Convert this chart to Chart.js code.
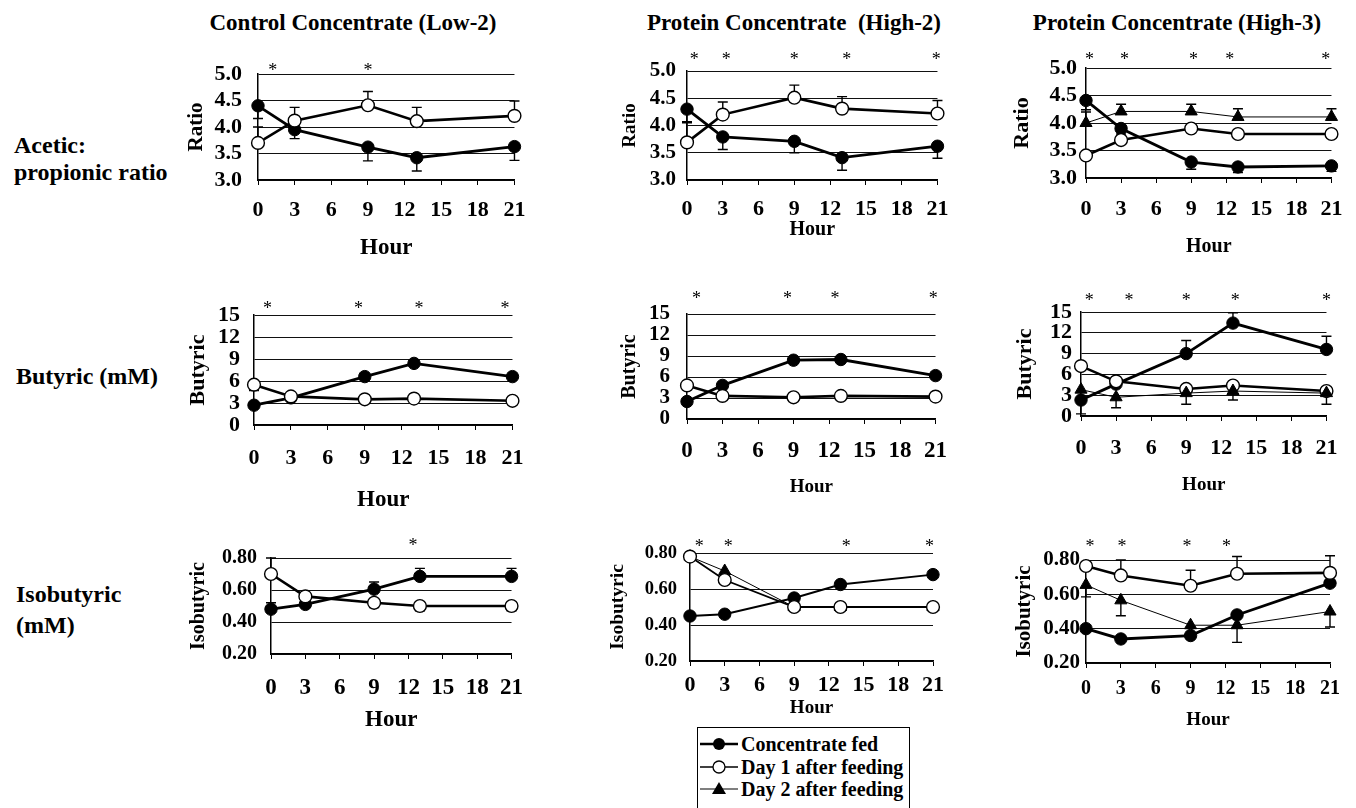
<!DOCTYPE html>
<html>
<head>
<meta charset="utf-8">
<script src="https://cdn.jsdelivr.net/npm/chart.js@4.4.1/dist/chart.umd.min.js"></script>
<style>
body{margin:0;background:#fff;}
#page{position:relative;width:1356px;height:808px;overflow:hidden;font-family:"Liberation Serif","Times New Roman",serif;font-weight:bold;color:#000;}
.lab{position:absolute;line-height:1;white-space:pre;}
.ctr{transform:translate(-50%,-50%);}
.mid{transform:translateY(-50%);}
canvas{position:absolute;}
#legend{position:absolute;left:697px;top:727px;width:213px;height:100px;border:1.5px solid #000;box-sizing:border-box;}
.lrow{position:absolute;left:0;height:22px;width:100%;}
.lrow svg{position:absolute;left:2px;top:1px;}
.lrow span{position:absolute;left:43px;top:0;font-size:20px;line-height:22px;white-space:nowrap;}
</style>
</head>
<body>
<div id="page">
  <div class="lab ctr" style="left:353px;top:22px;font-size:23px;">Control Concentrate (Low-2)</div>
  <div class="lab ctr" style="left:794px;top:22px;font-size:23px;">Protein Concentrate  (High-2)</div>
  <div class="lab ctr" style="left:1177px;top:22px;font-size:23px;">Protein Concentrate (High-3)</div>

  <div class="lab mid" style="left:14px;top:145px;font-size:24px;">Acetic:</div>
  <div class="lab mid" style="left:14px;top:172px;font-size:24px;">propionic ratio</div>
  <div class="lab mid" style="left:16px;top:376px;font-size:24px;">Butyric (mM)</div>
  <div class="lab mid" style="left:16px;top:594px;font-size:24px;">Isobutyric</div>
  <div class="lab mid" style="left:16px;top:625px;font-size:24px;">(mM)</div>

  <div id="legend">
    <div class="lrow" style="top:5px;">
      <svg width="40" height="20"><line x1="0" y1="10" x2="38" y2="10" stroke="#000" stroke-width="2.5"/><circle cx="19" cy="10" r="6" fill="#000"/></svg>
      <span>Concentrate fed</span>
    </div>
    <div class="lrow" style="top:28px;">
      <svg width="40" height="20"><line x1="0" y1="10" x2="38" y2="10" stroke="#000" stroke-width="1.5"/><circle cx="19" cy="10" r="6" fill="#fff" stroke="#000" stroke-width="1.3"/></svg>
      <span>Day 1 after feeding</span>
    </div>
    <div class="lrow" style="top:50px;">
      <svg width="40" height="20"><line x1="0" y1="10" x2="38" y2="10" stroke="#000" stroke-width="1.2"/><polygon points="19,3 26,15 12,15" fill="#000"/></svg>
      <span>Day 2 after feeding</span>
    </div>
  </div>
</div>

<script>
// sampling hours
const hours = [0, 3, 9, 13, 21];

// ---- acetic:propionic ratio ----
const acLow2Fed = [4.4, 3.95, 3.62, 3.42, 3.63];
const acLow2FedErr = [-0.24, -0.17, -0.26, -0.25, -0.26];
const acLow2Day1 = [3.7, 4.12, 4.41, 4.11, 4.21];
const acLow2Day1Err = [0.3, 0.25, 0.26, 0.26, 0.28];
const acLow2Stars = [1.2, 9];

const acHigh2Fed = [4.3, 3.79, 3.71, 3.41, 3.62];
const acHigh2FedErr = [-0.25, -0.23, -0.21, -0.23, -0.22];
const acHigh2Day1 = [3.69, 4.2, 4.51, 4.31, 4.22];
const acHigh2Day1Err = [0.38, 0.23, 0.23, 0.22, 0.24];
const acHigh2Stars = [0.6, 3.3, 9, 13.4, 20.9];

const acHigh3Fed = [4.41, 3.9, 3.29, 3.2, 3.22];
const acHigh3FedErr = [-0.17, -0.1, -0.13, -0.1, -0.1];
const acHigh3Day1 = [3.41, 3.69, 3.9, 3.8, 3.8];
const acHigh3Day2 = [4.0, 4.21, 4.21, 4.11, 4.11];
const acHigh3Day2Err = [0.2, 0.13, 0.13, 0.15, 0.15];
const acHigh3Stars = [0.3, 3.3, 9.2, 12.3, 20.5];

// ---- butyric ----
const buLow2Fed = [2.7, 3.7, 6.6, 8.4, 6.6];
const buLow2Day1 = [5.5, 3.9, 3.5, 3.6, 3.3];
const buLow2Day1Err = [-0.8, 0, 0, 0, 0];
const buLow2Stars = [1.1, 8.5, 13.4, 20.4];

const buHigh2Fed = [2.5, 4.8, 8.4, 8.5, 6.2];
const buHigh2Day1 = [4.8, 3.3, 3.1, 3.3, 3.2];
const buHigh2Stars = [0.8, 8.5, 12.5, 20.8];

const buHigh3Fed = [2.3, 4.6, 9.0, 13.4, 9.6];
const buHigh3FedErr = [-2.0, 0, 1.9, 1.5, 1.9];
const buHigh3Day1 = [7.2, 5.0, 3.9, 4.4, 3.6];
const buHigh3Day2 = [3.8, 2.7, 3.3, 3.6, 3.3];
const buHigh3Day2Err = [0, -1.5, -1.6, -1.3, -1.6];
const buHigh3Stars = [0.7, 4.1, 9, 13.2, 21];

// ---- isobutyric ----
const isoLow2Fed = [0.48, 0.51, 0.605, 0.685, 0.685];
const isoLow2FedErr = [0.04, 0, 0.045, 0.05, 0.05];
const isoLow2Day1 = [0.70, 0.56, 0.52, 0.50, 0.50];
const isoLow2Day1Err = [0.1, 0, -0.03, -0.03, -0.03];
const isoLow2Stars = [12.4];

const isoHigh2Fed = [0.45, 0.46, 0.55, 0.625, 0.68];
const isoHigh2Day1 = [0.78, 0.65, 0.50, 0.50, 0.50];
const isoHigh2Day2 = [0.78, 0.70, 0.50, 0.50, 0.50];
const isoHigh2Stars = [0.8, 3.3, 13.5, 20.7];

const isoHigh3Fed = [0.40, 0.34, 0.36, 0.48, 0.665];
const isoHigh3Day1 = [0.765, 0.71, 0.65, 0.72, 0.725];
const isoHigh3Day1Err = [0, 0.09, 0.09, 0.1, 0.1];
const isoHigh3Day2 = [0.655, 0.565, 0.42, 0.42, 0.50];
const isoHigh3Day2Err = [-0.07, -0.09, 0, -0.1, -0.09];
const isoHigh3Stars = [0.34, 3.1, 8.7, 12.1];

// y axes: min, max, step, decimals
const ratioAxis = [3, 5, 0.5, 1];
const butyricAxis = [0, 15, 3, 0];
const isoAxis = [0.2, 0.8, 0.2, 2];

/* styles of the three series */
const styles = {
  fed: {pointStyle:"circle", pointBackgroundColor:"#000", borderWidth:2.8, pointRadius:6.2, pointBorderWidth:1, order:3},
  day1: {pointStyle:"circle", pointBackgroundColor:"#fff", borderWidth:2.6, pointRadius:6.4, pointBorderWidth:1.4, order:2},
  day2: {pointStyle:"triangle", pointBackgroundColor:"#000", borderWidth:1, pointRadius:7, pointBorderWidth:1, order:1}
};

/* panel placement (pixels) */
const panels = [
  {L:258,R:518,T:74,B:180, yTitleX:197,tickY:210,hourY:248,starDy:7, axis:ratioAxis, yTitle:"Ratio", yTitleSize:21, xTick:22, yTick:22, yPad:16, hourSize:23, lw:1,
   series:[["fed",acLow2Fed,acLow2FedErr],["day1",acLow2Day1,acLow2Day1Err]], stars:acLow2Stars},
  {L:687,R:940,T:71,B:180, yTitleX:630,tickY:209,hourY:230,starDy:15, axis:ratioAxis, yTitle:"Ratio", yTitleSize:19, xTick:22, yTick:21, yPad:11, hourSize:20, lw:1,
   series:[["fed",acHigh2Fed,acHigh2FedErr],["day1",acHigh2Day1,acHigh2Day1Err]], stars:acHigh2Stars},
  {L:1086,R:1336,T:68,B:178, yTitleX:1022,tickY:209,hourY:247,starDy:12, axis:ratioAxis, yTitle:"Ratio", yTitleSize:22, xTick:22, yTick:22, yPad:9, hourSize:20, lw:1,
   series:[["fed",acHigh3Fed,acHigh3FedErr],["day1",acHigh3Day1,null],["day2",acHigh3Day2,acHigh3Day2Err]], stars:acHigh3Stars},
  {L:254,R:519,T:315,B:425, yTitleX:198,tickY:458,hourY:500,starDy:10, axis:butyricAxis, yTitle:"Butyric", yTitleSize:22, xTick:22, yTick:22, yPad:14, hourSize:23, lw:1,
   series:[["fed",buLow2Fed,null],["day1",buLow2Day1,buLow2Day1Err]], stars:buLow2Stars},
  {L:687,R:940,T:314,B:419, yTitleX:630,tickY:450,hourY:487,starDy:19, axis:butyricAxis, yTitle:"Butyric", yTitleSize:20, xTick:23, yTick:21, yPad:17, hourSize:19, lw:1,
   series:[["fed",buHigh2Fed,null],["day1",buHigh2Day1,null]], stars:buHigh2Stars},
  {L:1081,R:1332,T:312,B:416, yTitleX:1025,tickY:448,hourY:485,starDy:15, axis:butyricAxis, yTitle:"Butyric", yTitleSize:22, xTick:22, yTick:22, yPad:9, hourSize:19, lw:1,
   series:[["fed",buHigh3Fed,buHigh3FedErr],["day1",buHigh3Day1,null],["day2",buHigh3Day2,buHigh3Day2Err]], stars:buHigh3Stars},
  {L:271,R:518,T:558,B:654, yTitleX:199,tickY:687,hourY:720,starDy:16, axis:isoAxis, yTitle:"Isobutyric", yTitleSize:20, xTick:23, yTick:20, yPad:14, hourSize:23, lw:1,
   series:[["fed",isoLow2Fed,isoLow2FedErr],["day1",isoLow2Day1,isoLow2Day1Err]], stars:isoLow2Stars},
  {L:690,R:933,T:553,B:661, yTitleX:618,tickY:685,hourY:708,starDy:10, axis:isoAxis, yTitle:"Isobutyric", yTitleSize:19.5, xTick:22, yTick:18.5, yPad:13, hourSize:19, lw:0.7,
   series:[["fed",isoHigh2Fed,null],["day1",isoHigh2Day1,null],["day2",isoHigh2Day2,null]], stars:isoHigh2Stars, day2Order:2.5},
  {L:1086,R:1330,T:560,B:663, yTitleX:1025,tickY:688,hourY:720,starDy:17, axis:isoAxis, yTitle:"Isobutyric", yTitleSize:21, xTick:20, yTick:21, yPad:6, hourSize:19, lw:1,
   series:[["fed",isoHigh3Fed,null],["day1",isoHigh3Day1,isoHigh3Day1Err],["day2",isoHigh3Day2,isoHigh3Day2Err]], stars:isoHigh3Stars}
];

Chart.defaults.font.family = "'Liberation Serif', 'Times New Roman', serif";
Chart.defaults.color = "#000";

/* error bars, drawn under the markers */
const errorBars = {
  id: "errorBars",
  beforeDatasetsDraw(chart) {
    const ctx = chart.ctx, ys = chart.scales.y;
    ctx.save();
    ctx.strokeStyle = "#000";
    ctx.lineWidth = 1.4;
    chart.data.datasets.forEach((ds, i) => {
      if (!ds.errors) return;
      chart.getDatasetMeta(i).data.forEach((pt, j) => {
        const e = ds.errors[j];
        if (!e || ds.data[j].y == null) return;
        const y1 = ys.getPixelForValue(ds.data[j].y + e);
        ctx.beginPath();
        ctx.moveTo(pt.x, pt.y);
        ctx.lineTo(pt.x, y1);
        ctx.moveTo(pt.x - 5, y1);
        ctx.lineTo(pt.x + 5, y1);
        ctx.stroke();
      });
    });
    ctx.restore();
  }
};

/* significance asterisks above the plot */
const stars = {
  id: "stars",
  afterDraw(chart, args, opts) {
    const ctx = chart.ctx, xs = chart.scales.x;
    ctx.save();
    ctx.font = "18px 'Liberation Serif'";
    ctx.textAlign = "center";
    ctx.textBaseline = "alphabetic";
    ctx.fillStyle = "#000";
    (opts.hours || []).forEach(h => {
      ctx.fillText("*", xs.getPixelForValue(h), chart.chartArea.top - opts.dy + 8.5);
    });
    ctx.restore();
  }
};

const page = document.getElementById("page");

panels.forEach(p => {
  const cx = p.L - 100, cy = p.T - 40;
  const w = p.R - p.L + 120;
  const h = p.hourY + 16 - cy;
  const cv = document.createElement("canvas");
  cv.width = w; cv.height = h;
  cv.style.left = cx + "px";
  cv.style.top = cy + "px";
  page.appendChild(cv);

  const [yMin, yMax, yStep, dec] = p.axis;

  const datasets = p.series.map(([kind, vals, errs]) => {
    const st = styles[kind];
    return Object.assign({}, st, {
      data: hours.map((hr, i) => ({x: hr, y: vals[i]})),
      errors: errs,
      borderColor: "#000",
      pointBorderColor: "#000",
      borderWidth: kind === "day2" ? st.borderWidth : st.borderWidth * p.lw,
      order: kind === "day2" && p.day2Order ? p.day2Order : st.order,
      tension: 0,
      clip: false
    });
  });

  new Chart(cv, {
    type: "line",
    data: {datasets},
    plugins: [errorBars, stars],
    options: {
      responsive: false,
      animation: false,
      layout: {padding: {left: 0, top: 40, right: 20, bottom: 0}},
      plugins: {
        legend: {display: false},
        tooltip: {enabled: false},
        stars: {hours: p.stars, dy: p.starDy}
      },
      scales: {
        x: {
          type: "linear",
          min: 0, max: 21,
          ticks: {stepSize: 3, autoSkip: false, font: {size: p.xTick, weight: "bold"},
                  padding: p.tickY - p.B - 5 - 0.567 * p.xTick, maxRotation: 0},
          grid: {drawOnChartArea: false, drawTicks: true, tickLength: 5, color: "#000", lineWidth: 1},
          border: {display: true, color: "#000", width: 1.5},
          title: {display: true, text: "Hour", font: {size: p.hourSize, weight: "bold"},
                  padding: {top: 0, bottom: 16 - 0.6 * p.hourSize}},
          afterFit(scale) { scale.height = p.hourY + 16 - p.B; }
        },
        y: {
          min: yMin, max: yMax,
          ticks: {stepSize: yStep, autoSkip: false, font: {size: p.yTick, weight: "bold"}, padding: p.yPad,
                  callback: v => Number(v).toFixed(dec)},
          grid: {drawTicks: false, color: "#111", lineWidth: 1},
          border: {display: true, color: "#000", width: 1.5},
          title: {display: true, text: p.yTitle, font: {size: p.yTitleSize, weight: "bold"},
                  padding: {top: p.yTitleX - cx - 0.6 * p.yTitleSize, bottom: 0}},
          afterFit(scale) { scale.width = 100; }
        }
      }
    }
  });
});
</script>
</body>
</html>
